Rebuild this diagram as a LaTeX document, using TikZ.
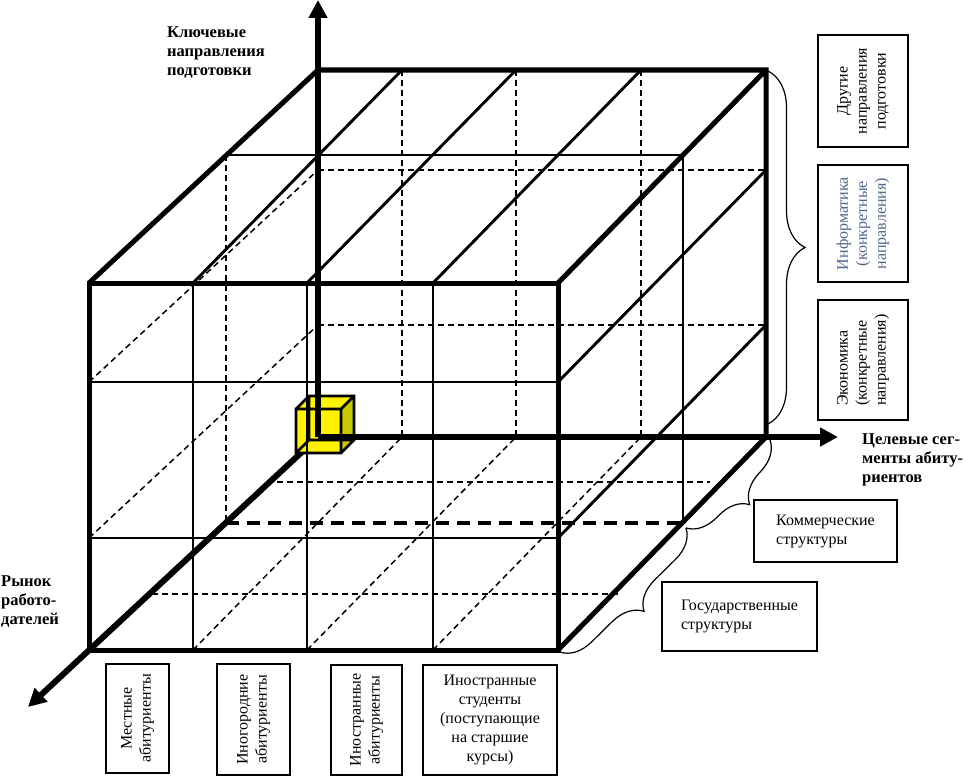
\documentclass[tikz,border=0pt]{standalone}
\usepackage{fontspec}
\setmainfont{Liberation Serif}
\usepackage{tikz}
\usetikzlibrary{arrows.meta}
\usetikzlibrary{decorations.pathreplacing}
\definecolor{infoblue}{RGB}{80,100,140}
\definecolor{cubeside}{RGB}{200,200,0}
\tikzset{edge/.style = {line width=5pt}}
\tikzset{grid/.style = {line width=2.9pt}}
\tikzset{hidden/.style = {line width=1.5pt, dash pattern=on 6pt off 4pt}}
\tikzset{hiddenthick/.style = {line width=3.5pt, dash pattern=on 13pt off 8pt}}
\tikzset{axis/.style = {line width=6pt, -{Triangle[length=18pt, width=18pt]}}}
\tikzset{cube/.style = {line width=2.8pt, line join=miter}}
\tikzset{brc/.style = {decorate, decoration={brace, amplitude=30pt}, line width=1.2pt}}
\tikzset{axlabel/.style = {inner sep=0pt, align=left, font=\fontsize{16.5}{19}\selectfont\bfseries}}
\tikzset{box/.style = {draw, line width=1.3pt, inner sep=2pt, align=center, font=\fontsize{16}{19}\selectfont}}
\tikzset{vbox/.style = {box, rotate=90}}

\begin{document}
\begin{tikzpicture}[x=1pt, y=-1pt]
    \useasboundingbox (0,0) rectangle (966,776);

    \draw [hidden] (402,70) -- (402,437) (516,70) -- (516,437) (641,70) -- (641,437)
                   (318,170) -- (766,170) (318,325) -- (766,325);
    \draw [hidden] (89,382) -- (318,170) (89,538) -- (318,325);
    \draw [hidden] (193,650) -- (402,437) (307,650) -- (516,437) (433,650) -- (641,437);
    \draw [hidden] (152,594) -- (620,594) (277,482) -- (710,482);
    \draw [hidden] (226,155) -- (226,523);
    \draw [hiddenthick] (226,523) -- (683,523);
    \draw [grid] (226,155) -- (683,155) -- (683,523);
    \draw [grid] (193,283) -- (402,70) (307,283) -- (516,70) (433,283) -- (641,70);
    \draw [grid] (558,382) -- (766,170) (558,538) -- (766,325);
    \draw [edge] (89,283) -- (318,70) -- (766,70) -- (766,437)
                 (558,283) -- (766,70) (558,650) -- (766,437);

    \draw [axis] (318,437) -- (28,707);

    \fill [yellow] (296,409) rectangle (341,453);
    \fill [yellow] (296,409) -- (309,396) -- (354,396) -- (341,409) -- cycle;
    \fill [cubeside] (341,409) -- (354,396) -- (354,440) -- (341,453) -- cycle;
    \draw [cube] (296,409) rectangle (341,453) (309,396) rectangle (354,440)
                 (296,409) -- (309,396) (341,409) -- (354,396)
                 (341,453) -- (354,440) (296,453) -- (309,440);

    \draw [grid] (193,283) -- (193,650) (307,283) -- (307,650) (433,283) -- (433,650)
                 (89,382) -- (558,382) (89,538) -- (558,538);
    \draw [edge] (89,283) rectangle (558,650);

    \draw [axis] (318,437) -- (318,0);
    \draw [axis] (318,437) -- (838,437);

    \draw [brc, decoration={amplitude=37pt}] (768,71) -- (768,424);
    \draw [brc] (770,440) -- (686,528);
    \draw [brc] (686,528) -- (560,652);

    \node [axlabel, anchor=north west] (key) at (167,26) {Ключевые\\направления\\подготовки};
    \node [axlabel, anchor=north west] (market) at (1,575) {Рынок\\работо-\\дателей};
    \node [axlabel, anchor=north west] (target) at (862,433) {Целевые сег-\\менты абиту-\\риентов};

    \node [vbox, minimum width=112pt, minimum height=90pt] (other) at (863,91) {Другие\\направления\\подготовки};
    \node [vbox, minimum width=117pt, minimum height=90pt, text=infoblue] (inform) at (863,223.5) {Информатика\\(конкретные\\направления)};
    \node [vbox, minimum width=120pt, minimum height=90pt, align=left] (econ) at (863,360) {Экономика\\(конкретные\\направления)};

    \node [vbox, minimum width=109pt, minimum height=63pt] (local) at (137.5,718.5) {Местные\\абитуриенты};
    \node [vbox, minimum width=111pt, minimum height=73pt] (nonres) at (253.5,719.5) {Иногородние\\абитуриенты};
    \node [vbox, minimum width=110pt, minimum height=71pt] (foreign) at (366.5,720) {Иностранные\\абитуриенты};
    \node [box, minimum width=134pt, minimum height=110pt] (transfer) at (490,720) {Иностранные\\студенты\\(поступающие\\на старшие\\курсы)};

    \node [box, minimum width=143pt, minimum height=62pt, align=left] (comm) at (825.5,531) {Коммерческие\\структуры};
    \node [box, minimum width=155pt, minimum height=69pt, align=left] (gov) at (739.5,616.5) {Государственные\\структуры};
\end{tikzpicture}
\end{document}
